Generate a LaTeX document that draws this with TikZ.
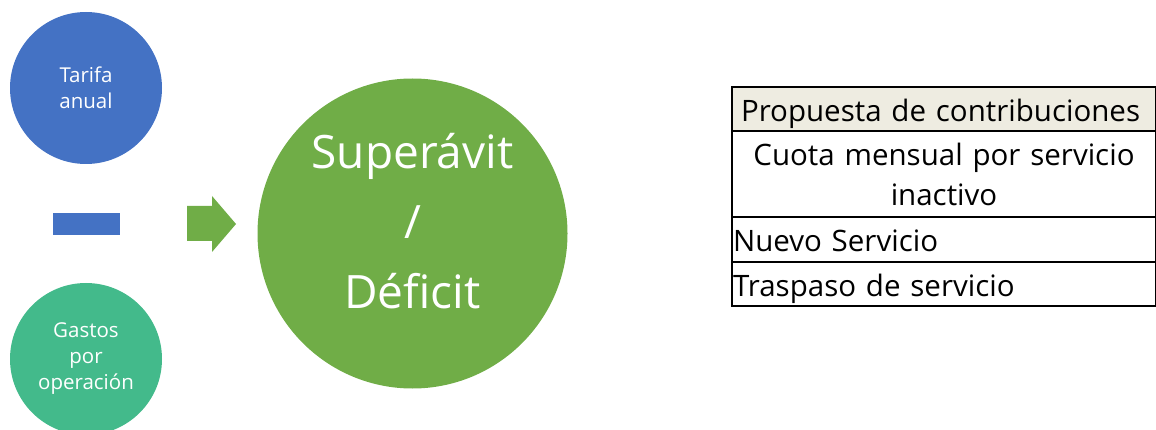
\documentclass[tikz,border=0pt]{standalone}
\usepackage{fontspec}
\setmainfont{Open Sans}
\usetikzlibrary{positioning}
\definecolor{azul}{HTML}{4472C4}
\definecolor{verdeclaro}{HTML}{43BA8B}
\definecolor{verde}{HTML}{70AD47}
\definecolor{beige}{HTML}{EEECE1}
\tikzset{
  circulo/.style={circle,inner sep=0pt,text=white,align=center},
  celda/.style={draw=black,line width=1.5pt,minimum width=424pt,inner sep=0pt,outer sep=0pt,anchor=north west,
    font=\fontsize{29.5}{40}\selectfont},
  renglon/.style={text height=25pt,text depth=0pt}
}
\begin{document}
\begin{tikzpicture}[x=1pt,y=-1pt]
\useasboundingbox (0,0) rectangle (1156,430);
% circulos de la izquierda
\node[circulo,fill=azul,minimum size=152pt,font=\fontsize{20.5}{26}\selectfont] (tarifa) at (86,88) {Tarifa\\anual};
\node[circulo,fill=verdeclaro,minimum size=152pt,font=\fontsize{20.5}{26}\selectfont] (gastos) at (86,359) {Gastos\\por\\operación};
\fill[azul] (53,213) rectangle (120,235);
% flecha
\fill[verde] (187,206) -- (212,206) -- (212,196) -- (236,224) -- (212,252) -- (212,241) -- (187,241) -- cycle;
\node[circulo,fill=verde,minimum size=310pt] (saldo) at (412.5,233.5) {};
\node[circulo,font=\fontsize{46}{70}\selectfont] (saldotxt) at ([yshift=12pt]saldo.center) {Superávit\\/\\Déficit};
% tabla
\node[celda,renglon,fill=beige,minimum height=44pt,text width=406pt,align=left,inner xsep=9pt] (cab) at (732,87) {Propuesta de contribuciones};
\node[celda,minimum height=86pt,text width=424pt,align=center] (cuota) at (cab.south west) {Cuota mensual por servicio\\inactivo};
\node[celda,renglon,minimum height=45pt,text width=422pt,align=left,inner xsep=1pt] (nuevo) at (cuota.south west) {Nuevo Servicio};
\node[celda,renglon,minimum height=44pt,text width=422pt,align=left,inner xsep=1pt] (traspaso) at (nuevo.south west) {Traspaso de servicio};
\end{tikzpicture}
\end{document}
